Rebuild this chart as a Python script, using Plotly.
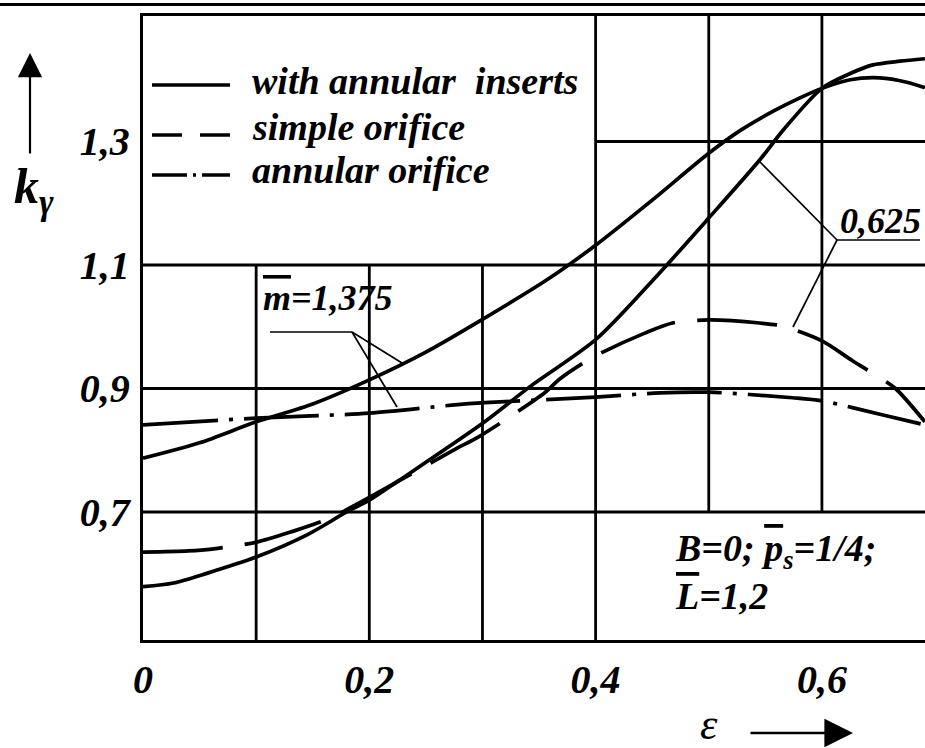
import plotly.graph_objects as go

# ---------------- data ----------------
# solid: "with annular inserts", m = 1.375
x_ins_1375 = [0, 0.05, 0.1, 0.15, 0.2, 0.25, 0.3, 0.357, 0.4, 0.45, 0.5, 0.528, 0.557, 0.581, 0.6, 0.625, 0.651, 0.675, 0.691]
y_ins_1375 = [0.787, 0.812, 0.846, 0.875, 0.914, 0.959, 1.012, 1.076, 1.132, 1.205, 1.281, 1.318, 1.349, 1.371, 1.386, 1.400, 1.403, 1.396, 1.387]

# solid: "with annular inserts", m = 0.625
x_ins_0625 = [0, 0.027, 0.057, 0.1, 0.145, 0.18, 0.2, 0.227, 0.302, 0.342, 0.4, 0.451, 0.5, 0.545, 0.566, 0.6, 0.625, 0.645, 0.669, 0.691]
y_ins_0625 = [0.579, 0.585, 0.601, 0.627, 0.663, 0.700, 0.719, 0.752, 0.846, 0.903, 0.979, 1.076, 1.176, 1.270, 1.319, 1.386, 1.410, 1.424, 1.430, 1.434]

# dashed: "simple orifice", m = 0.625
x_simple_0625 = [0, 0.04, 0.061, 0.1, 0.133, 0.154, 0.174, 0.256, 0.278, 0.295, 0.355, 0.368, 0.398, 0.444, 0.468, 0.5, 0.545, 0.565, 0.6, 0.627, 0.649, 0.665, 0.691]
y_simple_0625 = [0.635, 0.637, 0.640, 0.651, 0.669, 0.682, 0.698, 0.781, 0.804, 0.820, 0.893, 0.915, 0.951, 0.990, 1.006, 1.011, 1.006, 1.001, 0.977, 0.945, 0.920, 0.900, 0.846]

# dash-dot: "annular orifice", m = 1.375
x_annular_1375 = [0, 0.1, 0.2, 0.273, 0.302, 0.4, 0.457, 0.5, 0.574, 0.6, 0.654, 0.691]
y_annular_1375 = [0.841, 0.852, 0.860, 0.873, 0.877, 0.886, 0.893, 0.894, 0.885, 0.880, 0.857, 0.841]

x_tick_vals = [0, 0.2, 0.4, 0.6]
x_tick_text = ["0", "0,2", "0,4", "0,6"]
y_tick_vals = [0.7, 0.9, 1.1, 1.3]
y_tick_text = ["0,7", "0,9", "1,1", "1,3"]

legend_labels = ["with annular  inserts", "simple orifice", "annular orifice"]
x_grid = [0.1, 0.2, 0.3, 0.4, 0.5, 0.6]
y_grid = [0.7, 0.9, 1.1, 1.3]

# ---------------- layout constants ----------------
W, H = 925, 748
L, T, B = 143, 16, 108
X_RANGE = [0, 0.6911]
Y_RANGE = [0.4927, 1.5032]
FONT = "Liberation Serif, Times New Roman, serif"
BLACK = "#000000"


def PX(px):
    return (px - L) / (W - L)


def PY(py):
    return (H - B - py) / (H - B - T)


fig = go.Figure()

curve_style = dict(color=BLACK, width=3.7, shape="spline", smoothing=0.8)
fig.add_trace(go.Scatter(x=x_ins_1375, y=y_ins_1375, mode="lines", name="with annular inserts, m=1.375",
                         line=dict(**curve_style)))
fig.add_trace(go.Scatter(x=x_ins_0625, y=y_ins_0625, mode="lines", name="with annular inserts, m=0.625",
                         line=dict(**curve_style)))
fig.add_trace(go.Scatter(x=x_simple_0625, y=y_simple_0625, mode="lines", name="simple orifice",
                         line=dict(**curve_style, dash="80px,22px")))
fig.add_trace(go.Scatter(x=x_annular_1375, y=y_annular_1375, mode="lines", name="annular orifice",
                         line=dict(**curve_style, dash="75px,11px,4px,11px")))

shapes = []
grid_line = dict(color=BLACK, width=2.8)
# vertical grid segments
for gx in x_grid:
    if gx < 0.35:
        y0, y1 = Y_RANGE[0], 1.1
    elif gx < 0.45:
        y0, y1 = Y_RANGE[0], Y_RANGE[1]
    else:
        y0, y1 = 0.7, Y_RANGE[1]
    shapes.append(dict(type="line", xref="x", yref="y", x0=gx, x1=gx, y0=y0, y1=y1, line=grid_line, layer="below"))
# horizontal grid segments
for gy in y_grid:
    x0 = 0.4 if gy > 1.2 else X_RANGE[0]
    shapes.append(dict(type="line", xref="x", yref="y", x0=x0, x1=X_RANGE[1], y0=gy, y1=gy, line=grid_line, layer="below"))

# top rule across the page
shapes.append(dict(type="line", xref="paper", yref="paper", x0=PX(0), x1=PX(W), y0=PY(4.5), y1=PY(4.5),
                   line=dict(color=BLACK, width=3)))

# legend samples
leg_y = [85, 135, 175]
leg_dash = ["solid", "30px,18px", "35px,6px,3px,6px"]
for yy, dd in zip(leg_y, leg_dash):
    shapes.append(dict(type="line", xref="paper", yref="paper", x0=PX(152), x1=PX(230), y0=PY(yy), y1=PY(yy),
                       line=dict(color=BLACK, width=3.5, dash=dd)))

# leader lines
thin = dict(color=BLACK, width=1.7)
for (a, b) in [((270, 332), (352, 332)), ((352, 332), (402, 363)), ((352, 332), (397, 407)),
               ((837, 240), (920, 240)), ((837, 240), (760, 162)), ((837, 240), (793, 327))]:
    shapes.append(dict(type="line", xref="paper", yref="paper", x0=PX(a[0]), y0=PY(a[1]), x1=PX(b[0]), y1=PY(b[1]),
                       line=thin))

annotations = []
leg_text_y = [81, 127, 170]
for lab, yy in zip(legend_labels, leg_text_y):
    annotations.append(dict(xref="paper", yref="paper", x=PX(250), y=PY(yy), xanchor="left", yanchor="middle",
                            text=lab, showarrow=False,
                            font=dict(family=FONT, size=38, color=BLACK, style="italic", weight="bold")))

annotations.append(dict(xref="paper", yref="paper", x=PX(261), y=PY(298), xanchor="left", yanchor="middle",
                        text='<span style="text-decoration:overline">m</span>=1,375', showarrow=False,
                        font=dict(family=FONT, size=36, color=BLACK, style="italic", weight="bold")))
annotations.append(dict(xref="paper", yref="paper", x=PX(838), y=PY(221), xanchor="left", yanchor="middle",
                        text="0,625", showarrow=False,
                        font=dict(family=FONT, size=36, color=BLACK, style="italic", weight="bold")))
annotations.append(dict(xref="paper", yref="paper", x=PX(673), y=PY(551), xanchor="left", yanchor="middle",
                        text='B=0; <span style="text-decoration:overline">p</span><sub>s</sub>=1/4;', showarrow=False,
                        font=dict(family=FONT, size=38, color=BLACK, style="italic", weight="bold")))
annotations.append(dict(xref="paper", yref="paper", x=PX(673), y=PY(596), xanchor="left", yanchor="middle",
                        text='<span style="text-decoration:overline">L</span>=1,2', showarrow=False,
                        font=dict(family=FONT, size=38, color=BLACK, style="italic", weight="bold")))

# axis titles
annotations.append(dict(xref="paper", yref="paper", x=PX(12), y=PY(190), xanchor="left", yanchor="middle",
                        text="k<sub>γ</sub>", showarrow=False,
                        font=dict(family=FONT, size=50, color=BLACK, style="italic", weight="bold")))
annotations.append(dict(xref="paper", yref="paper", x=PX(698), y=PY(724), xanchor="left", yanchor="middle",
                        text="ε", showarrow=False,
                        font=dict(family=FONT, size=44, color=BLACK, style="italic")))
# arrows
annotations.append(dict(xref="paper", yref="paper", x=PX(30), y=PY(53), ax=0, ay=102, text="", showarrow=True,
                        arrowhead=2, arrowsize=2.2, arrowwidth=2.2, arrowcolor=BLACK, standoff=0))
annotations.append(dict(xref="paper", yref="paper", x=PX(853), y=PY(733), ax=-104, ay=0, text="", showarrow=True,
                        arrowhead=2, arrowsize=2.2, arrowwidth=2.6, arrowcolor=BLACK, standoff=0))

fig.update_layout(
    width=W, height=H,
    margin=dict(l=L, r=0, t=T, b=B, pad=0),
    paper_bgcolor="white", plot_bgcolor="white",
    showlegend=False,
    shapes=shapes, annotations=annotations,
    font=dict(family=FONT, color=BLACK),
)
fig.update_xaxes(range=X_RANGE, showgrid=False, zeroline=False, showline=True, mirror=True,
                 linecolor=BLACK, linewidth=3.3, ticks="", tickvals=x_tick_vals, ticktext=x_tick_text,
                 ticklabelstandoff=2,
                 tickfont=dict(family=FONT, size=40, color=BLACK, style="italic", weight="bold"))
fig.update_yaxes(range=Y_RANGE, showgrid=False, zeroline=False, showline=True, mirror=False,
                 linecolor=BLACK, linewidth=3.3, ticks="", tickvals=y_tick_vals, ticktext=y_tick_text,
                 ticklabelstandoff=2,
                 tickfont=dict(family=FONT, size=40, color=BLACK, style="italic", weight="bold"))

fig.write_html("out.html", config={"displayModeBar": False},
               post_script="document.body.style.margin='0';document.body.style.overflow='hidden';")
